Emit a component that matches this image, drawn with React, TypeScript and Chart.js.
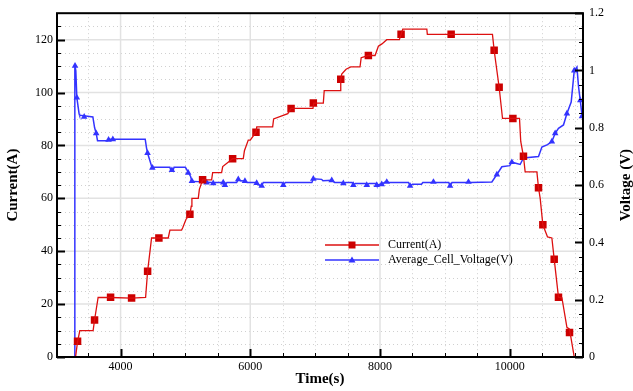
import React, { useEffect, useRef } from "react";
import { Chart, registerables } from "chart.js";

Chart.register(...registerables);

// ---- data ----
const currentLabel = "Current(A)";
const voltageLabel = "Average_Cell_Voltage(V)";

const currentLine: [number, number][] = [
  [3306, 0], [3337, 5.8], [3372, 10], [3577, 10], [3599, 14], [3654, 22.5], [3846, 22.5],
  [4170, 22.3], [4386, 22.5], [4417, 32.4], [4478, 45], [4735, 45], [4761, 48], [4941, 48],
  [4960, 49], [5008, 52], [5069, 54], [5090, 57], [5100, 60], [5198, 60], [5215, 63.4],
  [5265, 67], [5404, 67], [5420, 69.7], [5558, 69.7], [5575, 72], [5728, 75], [5892, 75],
  [5910, 78], [5969, 82], [6000, 82], [6088, 85], [6100, 87], [6345, 87], [6360, 90],
  [6578, 92], [6629, 94], [6966, 94], [6980, 96], [7126, 96], [7140, 100.7], [7384, 100.7],
  [7395, 105], [7410, 107], [7477, 108.8], [7549, 109.7], [7692, 109.7], [7710, 113.2],
  [7821, 114], [7924, 114], [7975, 117.5], [8030, 118.4], [8104, 120], [8299, 120],
  [8325, 122], [8351, 124], [8722, 124], [8730, 122], [9734, 122], [9760, 116], [9837, 102],
  [9889, 90.2], [10151, 90.2], [10170, 81.5], [10212, 75.9], [10238, 70], [10419, 70],
  [10444, 64], [10470, 60], [10511, 50], [10583, 45.4], [10650, 45], [10686, 37],
  [10752, 22.6], [10805, 22.4], [10882, 11.2], [10922, 10.5], [10995, 0],
];

const currentMarkers: [number, number][] = [
  [3337, 6], [3599, 14], [3846, 22.6], [4170, 22.3], [4417, 32.4], [4591, 45], [5069, 54],
  [5265, 67], [5728, 75], [6088, 85], [6629, 94], [6972, 96], [7395, 105], [7821, 114],
  [8325, 122], [9097, 122], [9760, 116], [9837, 102], [10049, 90.2], [10212, 75.9],
  [10444, 64], [10511, 50], [10686, 37], [10752, 22.6], [10922, 9.3],
];

const voltageLine: [number, number][] = [
  [3290, 0], [3295, 1.02], [3310, 1.0], [3326, 0.905], [3360, 0.85], [3368, 0.844],
  [3573, 0.838], [3600, 0.8], [3624, 0.781], [3645, 0.755], [3800, 0.755], [3815, 0.76],
  [4380, 0.76], [4400, 0.73], [4416, 0.712], [4460, 0.68], [4483, 0.662], [4760, 0.662],
  [4775, 0.652], [4810, 0.652], [4825, 0.662], [5000, 0.662], [5043, 0.645], [5080, 0.63],
  [5100, 0.613], [5130, 0.613], [5400, 0.609], [5429, 0.604], [5460, 0.609], [5590, 0.609],
  [5609, 0.6], [5640, 0.609], [5790, 0.609], [5815, 0.62], [5850, 0.615], [5918, 0.614],
  [5950, 0.609], [6080, 0.609], [6099, 0.603], [6176, 0.597], [6200, 0.609], [6490, 0.609],
  [6509, 0.6], [6540, 0.609], [6950, 0.609], [6972, 0.622], [7100, 0.62], [7120, 0.615],
  [7256, 0.617], [7300, 0.609], [7420, 0.609], [7435, 0.603], [7470, 0.609], [7570, 0.609],
  [7589, 0.6], [7620, 0.606], [7780, 0.606], [7796, 0.6], [7830, 0.606], [7940, 0.606],
  [7950, 0.6], [8000, 0.603], [8027, 0.603], [8080, 0.611], [8104, 0.611], [8140, 0.609],
  [8440, 0.609], [8464, 0.597], [8500, 0.603], [8640, 0.603], [8660, 0.609], [8800, 0.609],
  [8824, 0.611], [8850, 0.609], [9060, 0.609], [9081, 0.597], [9110, 0.609], [9340, 0.609],
  [9364, 0.611], [9390, 0.609], [9725, 0.611], [9802, 0.637], [9879, 0.664], [10000, 0.668],
  [10033, 0.68], [10161, 0.672], [10212, 0.695], [10444, 0.7], [10496, 0.733],
  [10583, 0.741], [10650, 0.752], [10701, 0.781], [10752, 0.798], [10829, 0.81],
  [10882, 0.85], [10948, 0.89], [10995, 0.999], [11036, 1.012], [11062, 0.942],
  [11088, 0.896], [11114, 0.844], [11130, 0.84],
];

const voltageMarkers: [number, number][] = [
  [3298, 1.016], [3326, 0.905], [3439, 0.838], [3624, 0.781], [3815, 0.758], [3881, 0.76],
  [4416, 0.712], [4490, 0.66], [4792, 0.652], [5043, 0.643], [5100, 0.614], [5327, 0.609],
  [5429, 0.606], [5583, 0.609], [5609, 0.6], [5815, 0.62], [5918, 0.614], [6099, 0.607],
  [6176, 0.597], [6509, 0.6], [6972, 0.622], [7256, 0.617], [7435, 0.606], [7589, 0.6],
  [7796, 0.6], [7950, 0.6], [8027, 0.603], [8104, 0.611], [8464, 0.597], [8824, 0.611],
  [9081, 0.597], [9364, 0.611], [9802, 0.637], [10033, 0.68], [10212, 0.695],
  [10650, 0.752], [10701, 0.781], [10882, 0.85], [10995, 1.0], [11088, 0.896], [11114, 0.84],
];

const xTicks = [4000, 6000, 8000, 10000];
const xMinorStep = 500;
const yTicks = [0, 20, 40, 60, 80, 100, 120];
const yMinorStep = 5;
const y2Ticks = [0, 0.2, 0.4, 0.6, 0.8, 1, 1.2];
const y2MinorStep = 0.05;

const xTitle = "Time(s)";
const yTitle = "Current(A)";
const y2Title = "Voltage (V)";

// ---- styles ----
const RED_LINE = "#dd1010";
const RED_MARK = "#cc0000";
const BLUE = "#3333ff";
const FONT = "'Liberation Serif', 'Times New Roman', serif";

const toXY = (a: [number, number][]) => a.map(([x, y]) => ({ x, y }));

function minorValues(min: number, max: number, step: number) {
  const out: number[] = [];
  const start = Math.ceil(min / step - 1e-9);
  for (let k = start; k * step <= max + 1e-9; k++) out.push(+(k * step).toFixed(6));
  return out;
}

const framePlugin = {
  id: "frame",
  beforeDatasetsDraw(chart: any) {
    const { ctx, chartArea: a, scales } = chart;
    const x = scales.x, y = scales.y;
    ctx.save();
    // minor dotted grid
    ctx.strokeStyle = "#d0d0d0";
    ctx.lineWidth = 1;
    ctx.setLineDash([1, 3]);
    for (const v of minorValues(x.min, x.max, xMinorStep)) {
      if (xTicks.includes(v)) continue;
      const px = Math.round(x.getPixelForValue(v)) + 0.5;
      ctx.beginPath(); ctx.moveTo(px, a.top); ctx.lineTo(px, a.bottom); ctx.stroke();
    }
    for (const v of minorValues(y.min, y.max, yMinorStep)) {
      if (yTicks.includes(v)) continue;
      const py = Math.round(y.getPixelForValue(v)) + 0.5;
      ctx.beginPath(); ctx.moveTo(a.left, py); ctx.lineTo(a.right, py); ctx.stroke();
    }
    // major solid grid
    ctx.setLineDash([]);
    ctx.strokeStyle = "#e2e2e2";
    ctx.lineWidth = 1.5;
    for (const v of xTicks) {
      const px = x.getPixelForValue(v);
      ctx.beginPath(); ctx.moveTo(px, a.top); ctx.lineTo(px, a.bottom); ctx.stroke();
    }
    for (const v of yTicks) {
      const py = y.getPixelForValue(v);
      ctx.beginPath(); ctx.moveTo(a.left, py); ctx.lineTo(a.right, py); ctx.stroke();
    }
    ctx.restore();
  },
  afterDatasetsDraw(chart: any) {
    const { ctx, chartArea: a, scales } = chart;
    const x = scales.x, y = scales.y, y2 = scales.y2;
    ctx.save();
    ctx.strokeStyle = "#000";
    ctx.setLineDash([]);
    // tick marks (inward)
    ctx.lineWidth = 1;
    for (const v of minorValues(x.min, x.max, xMinorStep)) {
      const major = xTicks.includes(v);
      const px = Math.round(x.getPixelForValue(v)) + 0.5;
      ctx.lineWidth = major ? 2 : 1;
      ctx.beginPath(); ctx.moveTo(px, a.bottom); ctx.lineTo(px, a.bottom - (major ? 8 : 4)); ctx.stroke();
    }
    for (const v of minorValues(y.min, y.max, yMinorStep)) {
      const major = yTicks.includes(v);
      const py = Math.round(y.getPixelForValue(v)) + 0.5;
      ctx.lineWidth = major ? 2 : 1;
      ctx.beginPath(); ctx.moveTo(a.left, py); ctx.lineTo(a.left + (major ? 8 : 4), py); ctx.stroke();
    }
    for (const v of minorValues(y2.min, y2.max, y2MinorStep)) {
      const major = y2Ticks.some((t) => Math.abs(t - v) < 1e-6);
      const py = Math.round(y2.getPixelForValue(v)) + 0.5;
      ctx.lineWidth = major ? 2 : 1;
      ctx.beginPath(); ctx.moveTo(a.right, py); ctx.lineTo(a.right - (major ? 8 : 4), py); ctx.stroke();
    }
    // frame
    ctx.lineWidth = 2;
    ctx.strokeRect(a.left, a.top, a.right - a.left, a.bottom - a.top);

    // axis titles
    ctx.fillStyle = "#000";
    ctx.font = `bold 15px ${FONT}`;
    ctx.textAlign = "center";
    ctx.textBaseline = "middle";
    ctx.fillText(xTitle, (a.left + a.right) / 2, 379);
    const cy = (a.top + a.bottom) / 2;
    ctx.save();
    ctx.translate(13, cy);
    ctx.rotate(-Math.PI / 2);
    ctx.fillText(yTitle, 0, 0);
    ctx.restore();
    ctx.save();
    ctx.translate(626, cy);
    ctx.rotate(-Math.PI / 2);
    ctx.fillText(y2Title, 0, 0);
    ctx.restore();

    // legend
    const lx0 = 325, lx1 = 379, tx = 388;
    const rows = [
      { y: 245, color: RED_LINE, mark: RED_MARK, kind: "rect", label: chart.data.datasets[0].label },
      { y: 260, color: BLUE, mark: BLUE, kind: "tri", label: chart.data.datasets[2].label },
    ];
    ctx.font = `12px ${FONT}`;
    ctx.textAlign = "left";
    for (const r of rows) {
      ctx.strokeStyle = r.color;
      ctx.lineWidth = 1.3;
      ctx.beginPath(); ctx.moveTo(lx0, r.y); ctx.lineTo(lx1, r.y); ctx.stroke();
      ctx.fillStyle = r.mark;
      const cx = (lx0 + lx1) / 2;
      if (r.kind === "rect") {
        ctx.fillRect(cx - 3.5, r.y - 3.5, 7, 7);
      } else {
        ctx.beginPath();
        ctx.moveTo(cx, r.y - 3.5); ctx.lineTo(cx + 3.5, r.y + 2.5); ctx.lineTo(cx - 3.5, r.y + 2.5);
        ctx.closePath(); ctx.fill();
      }
      ctx.fillStyle = "#000";
      ctx.fillText(r.label, tx, r.y);
    }
    ctx.restore();
  },
};

export default function App() {
  const ref = useRef<HTMLCanvasElement | null>(null);
  useEffect(() => {
    if (!ref.current) return;
    const tickFont = { family: FONT, size: 12 };
    const chart = new Chart(ref.current, {
      type: "line",
      data: {
        datasets: [
          {
            label: currentLabel,
            data: toXY(currentLine),
            yAxisID: "y",
            borderColor: RED_LINE,
            borderWidth: 1.3,
            pointRadius: 0,
            tension: 0,
          },
          {
            label: currentLabel + " markers",
            data: toXY(currentMarkers),
            yAxisID: "y",
            showLine: false,
            pointStyle: "rect",
            pointRadius: 5.3,
            backgroundColor: RED_MARK,
            borderColor: RED_MARK,
            borderWidth: 0,
          },
          {
            label: voltageLabel,
            data: toXY(voltageLine),
            yAxisID: "y2",
            borderColor: BLUE,
            borderWidth: 1.5,
            pointRadius: 0,
            tension: 0,
          },
          {
            label: voltageLabel + " markers",
            data: toXY(voltageMarkers),
            yAxisID: "y2",
            showLine: false,
            pointStyle: "triangle",
            pointRadius: 3.8,
            backgroundColor: BLUE,
            borderColor: BLUE,
            borderWidth: 0,
          },
        ],
      },
      options: {
        animation: false,
        responsive: false,
        devicePixelRatio: 1,
        layout: { padding: { top: 8, left: 0, right: 0, bottom: 0 } },
        plugins: { legend: { display: false }, tooltip: { enabled: false } },
        scales: {
          x: {
            type: "linear",
            position: "bottom",
            min: 3020,
            max: 11130,
            grid: { display: false, drawTicks: false },
            border: { display: false },
            afterBuildTicks: (s: any) => { s.ticks = xTicks.map((v) => ({ value: v })); },
            afterFit: (s: any) => { s.height = 34; },
            ticks: { color: "#000", font: tickFont, padding: 3, maxRotation: 0, callback: (v: any) => String(v) },
          },
          y: {
            type: "linear",
            position: "left",
            min: 0,
            max: 130,
            grid: { display: false, drawTicks: false },
            border: { display: false },
            afterBuildTicks: (s: any) => { s.ticks = yTicks.map((v) => ({ value: v })); },
            afterFit: (s: any) => { s.width = 57; },
            ticks: { color: "#000", font: tickFont, padding: 4, callback: (v: any) => String(v) },
          },
          y2: {
            type: "linear",
            position: "right",
            min: 0,
            max: 1.2,
            grid: { display: false, drawTicks: false },
            border: { display: false },
            afterBuildTicks: (s: any) => { s.ticks = y2Ticks.map((v) => ({ value: v })); },
            afterFit: (s: any) => { s.width = 50; },
            ticks: { color: "#000", font: tickFont, padding: 6, callback: (v: any) => String(v) },
          },
        },
      },
      plugins: [framePlugin],
    } as any);
    return () => chart.destroy();
  }, []);
  return (
    <div style={{ position: "fixed", left: 0, top: 0, width: 633, height: 391, background: "#fff" }}>
      <canvas ref={ref} width={633} height={391} />
    </div>
  );
}
